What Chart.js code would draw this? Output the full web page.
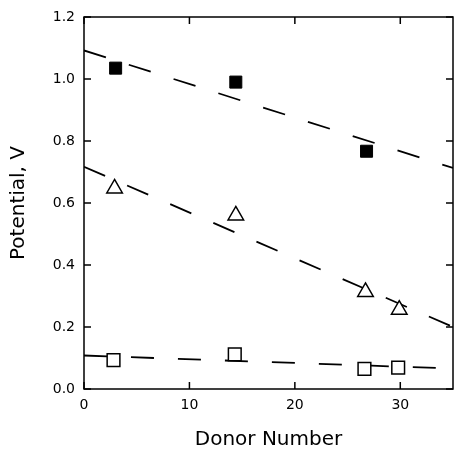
<!DOCTYPE html>
<html>
<head>
<meta charset="utf-8">
<script src="https://cdn.jsdelivr.net/npm/chart.js@4/dist/chart.umd.min.js"></script>
<style>
  body { margin: 0; background: #fff; }
</style>
</head>
<body>
<canvas id="c" width="454" height="453"></canvas>
<script>
// donor number vs potential, three series + dashed fits

const xTicks = [0, 10, 20, 30];
const yTicks = [0, 0.2, 0.4, 0.6, 0.8, 1.0, 1.2];

const filledX = [3, 14.4, 26.8];
const filledY = [1.035, 0.99, 0.767];

const triX = [2.9, 14.4, 26.7, 29.9];
const triY = [0.647, 0.56, 0.313, 0.256];

const openX = [2.8, 14.3, 26.6, 29.8];
const openY = [0.093, 0.112, 0.065, 0.069];

// dashed fit lines, ends at x = 0 and x = 35
const fitX = [0, 35];
const fitTop = [1.092, 0.713];
const fitMid = [0.717, 0.2];
const fitLow = [0.108, 0.066];

const pts = (xs, ys) => xs.map((x, i) => ({ x, y: ys[i] }));

const FONT = "'DejaVu Sans', sans-serif";

const fitLine = (ys) => ({
  data: pts(fitX, ys),
  showLine: true,
  borderColor: '#000',
  borderWidth: 1.8,
  borderDash: [23, 24],
  pointRadius: 0,
  fill: false,
});

// inward ticks on all four sides + box frame
const frame = {
  id: 'frame',
  afterDraw(chart) {
    const { ctx, chartArea: a, scales: { x, y } } = chart;
    const len = 7;
    ctx.save();
    ctx.strokeStyle = '#000';
    ctx.lineWidth = 1.5;
    ctx.strokeRect(a.left, a.top, a.right - a.left, a.bottom - a.top);
    ctx.beginPath();
    xTicks.forEach(v => {
      const px = x.getPixelForValue(v);
      ctx.moveTo(px, a.bottom); ctx.lineTo(px, a.bottom - len);
      ctx.moveTo(px, a.top); ctx.lineTo(px, a.top + len);
    });
    yTicks.forEach(v => {
      const py = y.getPixelForValue(v);
      ctx.moveTo(a.left, py); ctx.lineTo(a.left + len, py);
      ctx.moveTo(a.right, py); ctx.lineTo(a.right - len, py);
    });
    ctx.stroke();
    ctx.restore();
  },
};

new Chart(document.getElementById('c'), {
  type: 'scatter',
  data: {
    datasets: [
      {
        data: pts(filledX, filledY),
        pointStyle: 'rect',
        pointRadius: 8.5,
        backgroundColor: '#000',
        borderColor: '#000',
        borderWidth: 1,
      },
      {
        data: pts(triX, triY),
        pointStyle: 'triangle',
        pointRadius: 9,
        backgroundColor: '#fff',
        borderColor: '#000',
        borderWidth: 1.5,
      },
      {
        data: pts(openX, openY),
        pointStyle: 'rect',
        pointRadius: 9,
        backgroundColor: '#fff',
        borderColor: '#000',
        borderWidth: 1.5,
      },
      fitLine(fitTop),
      fitLine(fitMid),
      fitLine(fitLow),
    ],
  },
  options: {
    responsive: false,
    animation: false,
    layout: { autoPadding: false, padding: { top: 17, right: 1, left: 0, bottom: 0 } },
    plugins: {
      legend: { display: false },
      tooltip: { enabled: false },
    },
    scales: {
      x: {
        type: 'linear',
        min: 0,
        max: 35,
        afterBuildTicks: s => { s.ticks = xTicks.map(v => ({ value: v })); },
        afterFit: s => { s.height = 64; s.paddingLeft = 0; s.paddingRight = 0; },
        grid: { display: false, drawTicks: false },
        border: { display: false },
        ticks: { padding: 8, color: '#000', font: { family: FONT, size: 14 } },
        title: {
          display: true,
          text: 'Donor Number',
          color: '#000',
          font: { family: FONT, size: 20 },
          padding: { top: 0, bottom: 1 },
        },
      },
      y: {
        type: 'linear',
        min: 0,
        max: 1.2,
        afterBuildTicks: s => { s.ticks = yTicks.map(v => ({ value: v })); },
        afterFit: s => { s.width = 84; s.paddingTop = 0; s.paddingBottom = 0; },
        grid: { display: false, drawTicks: false },
        border: { display: false },
        ticks: {
          padding: 9,
          color: '#000',
          font: { family: FONT, size: 14 },
          callback: v => v.toFixed(1),
        },
        title: {
          display: true,
          text: 'Potential, V',
          color: '#000',
          font: { family: FONT, size: 20 },
          padding: { top: 7, bottom: 0 },
        },
      },
    },
  },
  plugins: [frame],
});
</script>
</body>
</html>
